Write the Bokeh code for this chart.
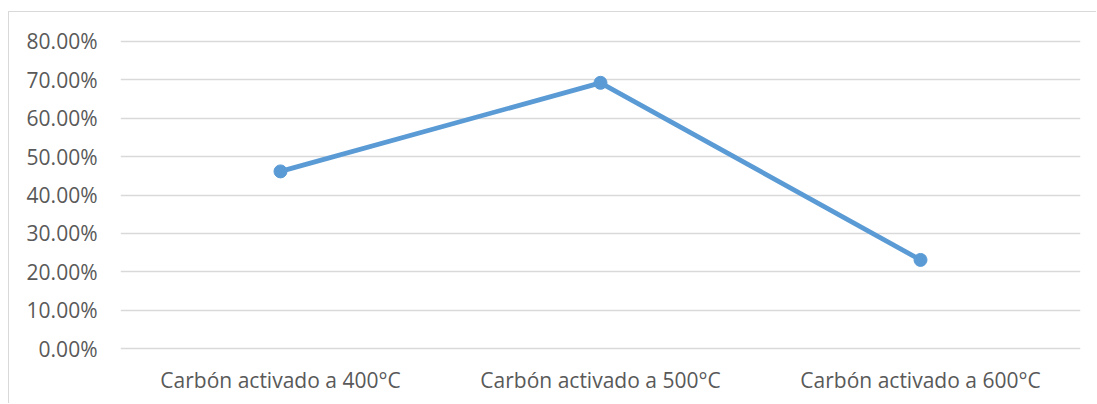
from bokeh.plotting import figure
from bokeh.models import FactorRange, Range1d, FixedTicker, NumeralTickFormatter
from bokeh.embed import file_html
from bokeh.resources import INLINE

categories = ["Carbón activado a 400°C", "Carbón activado a 500°C", "Carbón activado a 600°C"]
values = [0.4615, 0.6923, 0.2308]
y_ticks = [0.0, 0.1, 0.2, 0.3, 0.4, 0.5, 0.6, 0.7, 0.8]

TEXT = "#595959"
GRID = "#d9d9d9"
BLUE = "#5b9bd5"
FONT = "Open Sans"
FS = "21px"

p = figure(width=1088, height=392, output_backend="svg", toolbar_location=None,
           x_range=FactorRange(factors=categories, range_padding=0),
           y_range=Range1d(-0.0052, 0.8052),
           min_border_left=111, min_border_right=17, min_border_top=27, min_border_bottom=54)

p.styles = {"margin-left": "8px", "margin-top": "11px",
            "border-left": "1.5px solid #d9d9d9", "border-top": "1.5px solid #d9d9d9"}

p.line(x=categories, y=values, line_color=BLUE, line_width=4.8)
p.scatter(x=categories, y=values, size=13, fill_color=BLUE, line_color=BLUE)

p.outline_line_color = None
p.background_fill_color = "white"
p.border_fill_color = "white"
p.xgrid.grid_line_color = None
p.ygrid.grid_line_color = GRID
p.ygrid.grid_line_width = 1.5
p.yaxis.ticker = FixedTicker(ticks=y_ticks)
p.yaxis.formatter = NumeralTickFormatter(format="0.00%")

for ax in (p.xaxis, p.yaxis):
    ax.axis_line_color = None
    ax.major_tick_line_color = None
    ax.minor_tick_line_color = None
    ax.major_tick_out = 0
    ax.major_tick_in = 0
    ax.major_label_text_color = TEXT
    ax.major_label_text_font = FONT
    ax.major_label_text_font_size = FS

p.yaxis.major_label_standoff = 23
p.xaxis.major_label_standoff = 15

open("out.html", "w").write(file_html(p, INLINE))
